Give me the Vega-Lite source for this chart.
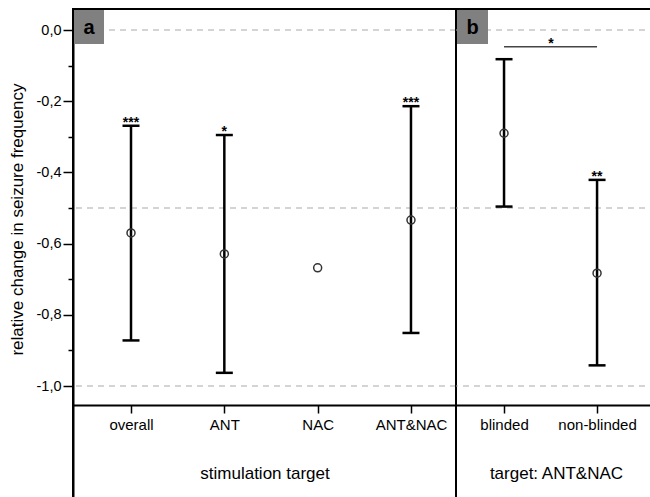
{
  "$schema": "https://vega.github.io/schema/vega-lite/v6.json",
  "padding": {"left": 7, "top": 8, "right": 0, "bottom": 0},
  "autosize": {"type": "pad"},
  "bounds": "flush",
  "spacing": 0,
  "config": {
    "font": "Liberation Sans",
    "view": {"stroke": "black", "strokeWidth": 2},
    "concat": {"spacing": 0}
  },
  "datasets": {
    "a": [
      {"target": "overall", "mean": -0.570, "lower": -0.872, "upper": -0.269, "sig": "***"},
      {"target": "ANT", "mean": -0.629, "lower": -0.963, "upper": -0.295, "sig": "*"},
      {"target": "NAC", "mean": -0.668, "lower": null, "upper": null, "sig": ""},
      {"target": "ANT&NAC", "mean": -0.534, "lower": -0.851, "upper": -0.214, "sig": "***"}
    ],
    "b": [
      {"target": "blinded", "mean": -0.290, "lower": -0.496, "upper": -0.082, "sig": ""},
      {"target": "non-blinded", "mean": -0.683, "lower": -0.942, "upper": -0.421, "sig": "**"}
    ],
    "bracket": [
      {"target": "blinded", "to": "non-blinded", "y": -0.047, "sig": "*"}
    ],
    "grid": [{"y": 0}, {"y": -0.5}, {"y": -1.0}],
    "labelA": [{"panel": "a"}],
    "labelB": [{"panel": "b"}]
  },
  "resolve": {"scale": {"y": "shared"}},
  "hconcat": [
    {
      "width": 383,
      "height": 489,
      "layer": [
        {
          "data": {"name": "grid"},
          "mark": {"type": "rule", "color": "#aaaaaa", "strokeWidth": 1.2, "strokeDash": [6, 5]},
          "encoding": {
            "y": {
              "field": "y", "type": "quantitative",
              "scale": {"domain": [-1.3146, 0.059], "nice": false, "zero": false},
              "title": "relative change in seizure frequency",
              "axis": {
                "values": [0, -0.1, -0.2, -0.3, -0.4, -0.5, -0.6, -0.7, -0.8, -0.9, -1.0],
                "labelExpr": "abs(round(datum.value*10))%2==1 ? '' : replace(replace(format(datum.value,'.1f'),'.',','),'\u2212','-')",
                "tickSize": {"condition": {"test": "abs(round(datum.value*10))%2==1", "value": 5}, "value": 10},
                "labelPadding": 2,
                "labelFontSize": 14.5,
                "labelColor": "black",
                "domainColor": "black",
                "domainWidth": 2,
                "tickColor": "black",
                "tickWidth": 1.5,
                "grid": false,
                "titleFontSize": 17,
                "titleFontWeight": "normal",
                "titleColor": "black",
                "titlePadding": 9,
                "titleY": 210,
                "minExtent": 38,
                "maxExtent": 38
              }
            }
          }
        },
        {
          "data": {"name": "labelA"},
          "mark": {"type": "rect", "color": "#808080"},
          "encoding": {
            "x": {"value": 1}, "x2": {"value": 31},
            "y": {"value": 1}, "y2": {"value": 35}
          }
        },
        {
          "data": {"name": "labelA"},
          "mark": {"type": "text", "fontSize": 20, "fontWeight": "bold", "color": "black", "align": "center", "baseline": "middle"},
          "encoding": {
            "x": {"value": 16}, "y": {"value": 19},
            "text": {"field": "panel"}
          }
        },
        {
          "data": {"name": "a"},
          "layer": [
            {
              "mark": {"type": "rule", "color": "black", "strokeWidth": 2.5},
              "encoding": {
                "y": {"field": "lower", "type": "quantitative", "title": "relative change in seizure frequency"},
                "y2": {"field": "upper"}
              }
            },
            {
              "mark": {"type": "tick", "color": "black", "size": 17, "thickness": 2.5, "opacity": 1},
              "encoding": {"y": {"field": "upper", "type": "quantitative", "title": "relative change in seizure frequency"}}
            },
            {
              "mark": {"type": "tick", "color": "black", "size": 17, "thickness": 2.5, "opacity": 1},
              "encoding": {"y": {"field": "lower", "type": "quantitative", "title": "relative change in seizure frequency"}}
            },
            {
              "mark": {"type": "point", "shape": "circle", "filled": false, "size": 64, "color": "#333333", "strokeWidth": 1.5, "opacity": 1},
              "encoding": {"y": {"field": "mean", "type": "quantitative", "title": "relative change in seizure frequency"}}
            },
            {
              "mark": {"type": "text", "fontSize": 14, "fontWeight": "bold", "color": "black", "align": "center", "baseline": "alphabetic", "dy": 1},
              "encoding": {
                "y": {"field": "upper", "type": "quantitative", "title": "relative change in seizure frequency"},
                "text": {"field": "sig"}
              }
            }
          ],
          "encoding": {
            "x": {
              "field": "target", "type": "nominal", "sort": ["overall", "ANT", "NAC", "ANT&NAC"],
              "scale": {"type": "point", "padding": 0.552, "align": 0.563},
              "title": "stimulation target",
              "axis": {
                "orient": "bottom", "offset": -93, "labelAngle": 0, "labelFlush": false,
                "tickSize": 8, "tickColor": "black", "tickWidth": 1.5,
                "domainColor": "black", "domainWidth": 2,
                "labelFontSize": 15, "labelColor": "black", "labelPadding": 4,
                "titleFontSize": 17, "titleFontWeight": "normal", "titleColor": "black", "titlePadding": 33
              }
            }
          }
        }
      ]
    },
    {
      "width": 200,
      "height": 489,
      "layer": [
        {
          "data": {"name": "grid"},
          "mark": {"type": "rule", "color": "#aaaaaa", "strokeWidth": 1.2, "strokeDash": [6, 5]},
          "encoding": {
            "y": {"field": "y", "type": "quantitative", "axis": null}
          }
        },
        {
          "data": {"name": "labelB"},
          "mark": {"type": "rect", "color": "#808080"},
          "encoding": {
            "x": {"value": 1}, "x2": {"value": 32},
            "y": {"value": 1}, "y2": {"value": 35}
          }
        },
        {
          "data": {"name": "labelB"},
          "mark": {"type": "text", "fontSize": 20, "fontWeight": "bold", "color": "black", "align": "center", "baseline": "middle"},
          "encoding": {
            "x": {"value": 16.5}, "y": {"value": 19},
            "text": {"field": "panel"}
          }
        },
        {
          "data": {"name": "bracket"},
          "layer": [
            {
              "mark": {"type": "rule", "color": "#444444", "strokeWidth": 1.5},
              "encoding": {
                "x2": {"field": "to"},
                "y": {"field": "y", "type": "quantitative", "axis": null}
              }
            },
            {
              "mark": {"type": "text", "fontSize": 14, "fontWeight": "bold", "color": "black", "align": "center", "baseline": "alphabetic", "dy": 1, "dx": 47},
              "encoding": {
                "y": {"field": "y", "type": "quantitative", "axis": null},
                "text": {"field": "sig"}
              }
            }
          ],
          "encoding": {
            "x": {
              "field": "target", "type": "nominal", "sort": ["blinded", "non-blinded"],
              "scale": {"type": "point", "domain": ["blinded", "non-blinded"], "padding": 0.575, "align": 0.449},
              "title": "target: ANT&NAC",
              "axis": {
                "orient": "bottom", "offset": -93, "labelAngle": 0, "labelFlush": false,
                "tickSize": 8, "tickColor": "black", "tickWidth": 1.5,
                "domainColor": "black", "domainWidth": 2,
                "labelFontSize": 15, "labelColor": "black", "labelPadding": 4,
                "titleFontSize": 17, "titleFontWeight": "normal", "titleColor": "black", "titlePadding": 33
              }
            }
          }
        },
        {
          "data": {"name": "b"},
          "layer": [
            {
              "mark": {"type": "rule", "color": "black", "strokeWidth": 2.5},
              "encoding": {
                "y": {"field": "lower", "type": "quantitative", "axis": null},
                "y2": {"field": "upper"}
              }
            },
            {
              "mark": {"type": "tick", "color": "black", "size": 17, "thickness": 2.5, "opacity": 1},
              "encoding": {"y": {"field": "upper", "type": "quantitative", "axis": null}}
            },
            {
              "mark": {"type": "tick", "color": "black", "size": 17, "thickness": 2.5, "opacity": 1},
              "encoding": {"y": {"field": "lower", "type": "quantitative", "axis": null}}
            },
            {
              "mark": {"type": "point", "shape": "circle", "filled": false, "size": 64, "color": "#333333", "strokeWidth": 1.5, "opacity": 1},
              "encoding": {"y": {"field": "mean", "type": "quantitative", "axis": null}}
            },
            {
              "mark": {"type": "text", "fontSize": 14, "fontWeight": "bold", "color": "black", "align": "center", "baseline": "alphabetic", "dy": 1},
              "encoding": {
                "y": {"field": "upper", "type": "quantitative", "axis": null},
                "text": {"field": "sig"}
              }
            }
          ],
          "encoding": {
            "x": {
              "field": "target", "type": "nominal", "sort": ["blinded", "non-blinded"],
              "scale": {"type": "point", "domain": ["blinded", "non-blinded"], "padding": 0.575, "align": 0.449},
              "title": "target: ANT&NAC",
              "axis": {
                "orient": "bottom", "offset": -93, "labelAngle": 0, "labelFlush": false,
                "tickSize": 8, "tickColor": "black", "tickWidth": 1.5,
                "domainColor": "black", "domainWidth": 2,
                "labelFontSize": 15, "labelColor": "black", "labelPadding": 4,
                "titleFontSize": 17, "titleFontWeight": "normal", "titleColor": "black", "titlePadding": 33
              }
            }
          }
        }
      ]
    }
  ]
}
